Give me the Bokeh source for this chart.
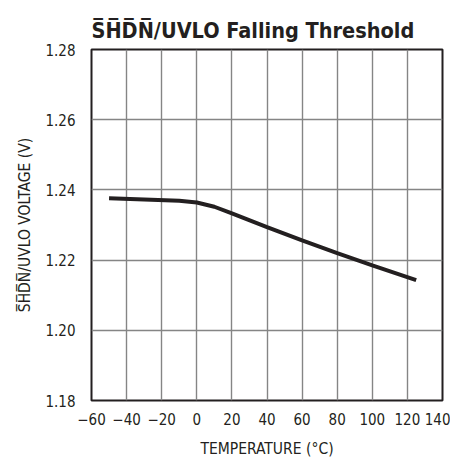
from bokeh.plotting import figure
from bokeh.models import Title, FixedTicker, Range1d
from bokeh.embed import file_html
from bokeh.resources import INLINE

temperature = [-50, -30, -10, 0, 10, 20, 40, 60, 80, 100, 125]
voltage = [1.2376, 1.2373, 1.2369, 1.2364, 1.2352, 1.2333, 1.2294, 1.2256, 1.2220, 1.2185, 1.2143]

x_ticks = [-60, -40, -20, 0, 20, 40, 60, 80, 100, 120, 140]
x_tick_labels = ["\u221260", "\u221240", "\u221220", "0", "20", "40", "60", "80", "100", "120", "140"]
y_ticks = [1.18, 1.20, 1.22, 1.24, 1.26, 1.28]
y_tick_labels = ["1.18", "1.20", "1.22", "1.24", "1.26", "1.28"]

OL = "\u0305"
def overline(s):
    return "".join(c + OL for c in s)

title_text = overline("SHDN") + "/UVLO Falling Threshold"
y_label = overline("SHDN") + "/UVLO VOLTAGE (V)"
x_label = "TEMPERATURE (\u00b0C)"

FONT = "'DejaVu Sans Condensed', 'DejaVu Sans'"

p = figure(frame_width=351, frame_height=351, output_backend="svg", toolbar_location=None,
           x_range=Range1d(-60, 140), y_range=Range1d(1.18, 1.28),
           min_border_left=91, min_border_right=8, min_border_top=49, min_border_bottom=57)

p.title = Title(text=title_text, align="left", text_font=FONT, text_font_size="21.5px",
                text_font_style="bold", text_color="#231f20", standoff=14)

p.line(temperature, voltage, line_color="#231f20", line_width=4)

p.xaxis.ticker = FixedTicker(ticks=x_ticks)
p.yaxis.ticker = FixedTicker(ticks=y_ticks)
p.xaxis.major_label_overrides = {t: l for t, l in zip(x_ticks, x_tick_labels)}
p.yaxis.major_label_overrides = {t: l for t, l in zip(y_ticks, y_tick_labels)}

for ax in (p.xaxis[0], p.yaxis[0]):
    ax.axis_line_color = None
    ax.major_tick_line_color = None
    ax.minor_tick_line_color = None
    ax.major_label_text_font = FONT
    ax.major_label_text_font_size = "15px"
    ax.major_label_text_color = "#231f20"
    ax.axis_label_text_font = FONT
    ax.axis_label_text_font_size = "15.5px"
    ax.axis_label_text_font_style = "normal"
    ax.axis_label_text_color = "#231f20"

p.xaxis.axis_label = x_label
p.yaxis.axis_label = y_label
p.xaxis.major_label_standoff = 6
p.yaxis.major_label_standoff = 10
p.xaxis.axis_label_standoff = 12
p.yaxis.axis_label_standoff = 8

p.grid.grid_line_color = "#858585"
p.grid.grid_line_width = 1.4
p.grid.grid_line_alpha = 1.0

p.outline_line_color = "#231f20"
p.outline_line_width = 2
p.outline_line_alpha = 1.0
p.background_fill_color = "white"
p.border_fill_color = "white"

open("out.html", "w").write(file_html(p, INLINE))
